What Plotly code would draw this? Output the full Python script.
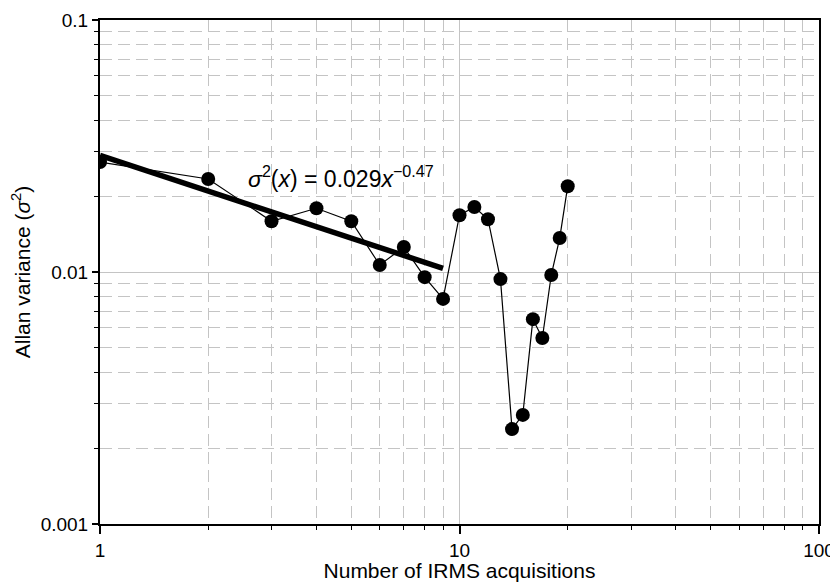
import plotly.graph_objects as go

acquisitions = [1, 2, 3, 4, 5, 6, 7, 8, 9, 10, 11, 12, 13, 14, 15, 16, 17, 18, 19, 20]
allan_variance = [0.0273, 0.0234, 0.0159, 0.0179, 0.0159, 0.01066, 0.01256, 0.00954, 0.00782,
                  0.0168, 0.0181, 0.0162, 0.00937, 0.00238, 0.00271, 0.0065, 0.00547, 0.00973,
                  0.01364, 0.0219]
fit_x = [1, 9]
fit_y = [0.029, 0.01034]
fit_label = "<i>σ</i><sup>2</sup>(<i>x</i>) = 0.029<i>x</i><sup>−0.47</sup>"
x_tickvals = [1, 10, 100]
x_ticktext = ["1", "10", "100"]
y_tickvals = [0.001, 0.01, 0.1]
y_ticktext = ["0.001", "0.01", "0.1"]

FONT = "Liberation Sans, Arial, sans-serif"
FS_TITLE = 21
FS_TICK = 19

fig = go.Figure()
fig.add_trace(go.Scatter(
    x=acquisitions, y=allan_variance, mode="lines+markers",
    line=dict(color="black", width=1.2),
    marker=dict(color="black", size=14),
    showlegend=False,
))
fig.add_trace(go.Scatter(
    x=fit_x, y=fit_y, mode="lines",
    line=dict(color="black", width=5.5),
    showlegend=False,
))

fig.add_annotation(
    x=0.405, y=-1.623, xref="x", yref="y", text=fit_label, showarrow=False,
    xanchor="left", yanchor="middle", font=dict(family=FONT, size=23, color="black"),
)

grid_major = "#c4c4c4"


def axis_style(major_len, minor_len):
    return dict(
        showline=True, linecolor="black", linewidth=2, mirror=True,
        ticks="outside", ticklen=major_len, tickwidth=1.5, tickcolor="black",
        showgrid=True, gridcolor=grid_major, gridwidth=1.2,
        minor=dict(ticks="outside", ticklen=minor_len, tickcolor="black", tickwidth=1, dtick="D1",
                   showgrid=True, gridcolor=grid_major, gridwidth=1.2, griddash="12px,6px"),
        tickfont=dict(family=FONT, size=FS_TICK, color="black"),
        zeroline=False, automargin=False,
    )


fig.update_xaxes(
    type="log", range=[0, 2], tickvals=x_tickvals, ticktext=x_ticktext,
    title=dict(text="Number of IRMS acquisitions", font=dict(family=FONT, size=FS_TITLE, color="black"), standoff=4),
    **axis_style(8, 4),
)
fig.update_yaxes(
    type="log", range=[-3, -1], tickvals=y_tickvals, ticktext=y_ticktext,
    title=dict(text="Allan variance (<i>σ</i><sup>2</sup>)", font=dict(family=FONT, size=FS_TITLE, color="black"), standoff=6),
    **axis_style(6, 4),
)

fig.update_layout(
    width=830, height=574,
    margin=dict(l=92, r=19, t=12, b=58),
    plot_bgcolor="white", paper_bgcolor="white",
    font=dict(family=FONT, color="black"),
)

fig.write_html("out.html")
